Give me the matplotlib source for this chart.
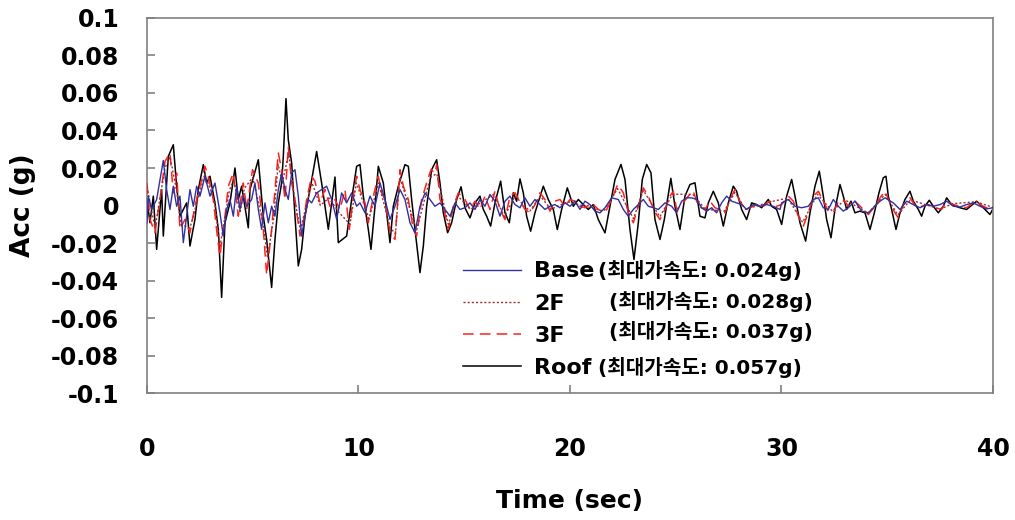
import matplotlib
matplotlib.use("Agg")
import matplotlib.pyplot as plt
import numpy as np
from matplotlib.lines import Line2D

plt.rcParams['font.family'] = ['DejaVu Sans', 'Noto Sans CJK KR']

# Roof (black) - extrema
roof_t = [0.0, 0.142, 0.299, 0.457, 0.693, 0.772, 1.009, 1.245, 1.403, 1.560, 1.875, 2.033,
          2.269, 2.427, 2.663, 2.821, 2.979, 3.215, 3.373, 3.530, 3.688, 3.924, 4.161, 4.318,
          4.476, 4.791, 4.870, 5.264, 5.500, 5.658, 5.894, 6.052, 6.210, 6.367, 6.446, 6.572,
          6.682, 6.840, 6.998, 7.155, 7.313, 7.470, 7.707, 8.022, 8.258, 8.574, 8.889, 9.046,
          9.440, 9.677, 9.913, 10.071, 10.229, 10.465, 10.591, 10.781, 10.938, 11.175, 11.332,
          11.490, 11.647, 11.884, 12.199, 12.357, 12.514, 12.672, 12.908, 13.066, 13.223,
          13.460, 13.696, 13.854, 14.011, 14.216, 14.405, 14.642, 14.85, 15.035, 15.272,
          15.508, 15.745, 15.902, 16.060, 16.249, 16.454, 16.722, 16.927, 17.131, 17.321,
          17.478, 17.636, 17.793, 17.951, 18.140, 18.345, 18.739, 18.975, 19.212, 19.401,
          19.606, 19.874, 20.158, 20.394, 20.631, 20.867, 21.104, 21.340, 21.655, 21.892,
          22.128, 22.412, 22.601, 22.837, 23.026, 23.231, 23.420, 23.625, 23.830, 24.019,
          24.256, 24.461, 24.77, 24.964, 25.201, 25.437, 25.674, 25.910, 26.146, 26.383,
          26.540, 26.777, 27.013, 27.250, 27.486, 27.722, 27.880, 28.116, 28.353, 28.589,
          28.826, 29.062, 29.377, 29.535, 29.771, 30.008, 30.245, 30.481, 30.639, 30.875,
          31.143, 31.348, 31.584, 31.789, 31.978, 32.136, 32.341, 32.530, 32.766, 32.924,
          33.081, 33.286, 33.475, 33.712, 33.948, 34.185, 34.390, 34.610, 34.815, 34.941,
          35.051, 35.209, 35.414, 35.603, 35.839, 36.075, 36.233, 36.469, 36.627, 36.785,
          36.989, 37.179, 37.415, 37.651, 37.809, 38.045, 38.439, 38.755, 39.227, 39.542,
          39.857, 40.0]
roof_a = [0.0032, -0.0092, 0.0050, -0.0234, 0.0085, -0.0163, 0.0262, 0.0324, 0.0103, -0.0057,
          0.0014, -0.0216, -0.0074, 0.0085, 0.0218, 0.0120, 0.0156, 0.0014, -0.0127, -0.0490,
          -0.0092, 0.0014, 0.0200, 0.0032, 0.0103, -0.0119, 0.0085, 0.0244, -0.0057, -0.0181,
          -0.0437, -0.0181, 0.0014, 0.0120, 0.0262, 0.0570, 0.0350, 0.0227, -0.0057, -0.0322,
          -0.0234, -0.0057, 0.0085, 0.0288, 0.0120, -0.0127, 0.0152, -0.0198, -0.0163, 0.0032,
          0.0209, 0.0218, 0.0050, -0.0127, -0.0234, -0.0004, 0.0209, 0.0120, -0.0039, -0.0198,
          -0.0004, 0.0103, 0.0218, 0.0209, 0.0032, -0.0127, -0.0358, -0.0216, -0.0004, 0.0191,
          0.0244, 0.0120, -0.0039, -0.0145, -0.0092, 0.0032, 0.0100, -0.0012, -0.0066, 0.0014,
          0.0050, -0.0021, -0.0057, -0.0110, 0.0014, 0.0130, -0.0039, -0.0092, 0.0068, 0.0023,
          0.0142, 0.0068, -0.0057, -0.0137, -0.0039, 0.0103, 0.0032, -0.0021, -0.0128, -0.0021,
          0.0094, -0.0004, 0.0032, 0.0005, -0.0021, 0.0005, -0.0075, -0.0146, -0.0004, 0.0139,
          0.0219, 0.0139, -0.0128, -0.0288, -0.0092, 0.0139, 0.0219, 0.0174, -0.0075, -0.0181,
          -0.0075, 0.0145, -0.0004, -0.0128, 0.0050, 0.0112, 0.0121, -0.0057, -0.0066, 0.0014,
          0.0076, 0.0014, -0.0110, 0.0014, 0.0103, 0.0076, -0.0021, -0.0075, 0.0014, 0.0005,
          -0.0012, 0.0032, -0.0004, -0.0021, -0.0101, 0.0050, 0.0139, 0.0050, -0.0092, -0.0190,
          -0.0039, 0.0103, 0.0183, 0.0050, -0.0075, -0.0172, -0.0021, 0.0112, 0.0050, -0.0021,
          0.0023, -0.0039, -0.0030, -0.0039, -0.0128, -0.0039, 0.0068, 0.0148, 0.0156, 0.0050,
          -0.0021, -0.0128, -0.0039, 0.0032, 0.0076, 0.0023, -0.0021, -0.0057, -0.0004, 0.0028,
          -0.0004, -0.0039, -0.0004, 0.0041, 0.0005, -0.0012, -0.0021, 0.0023, -0.0012, -0.0048,
          -0.0018]

# 3F (red dashed)
f3_t = [0.0, 0.142, 0.378, 0.615, 0.851, 1.087, 1.245, 1.403, 1.560, 1.797, 2.033, 2.269,
        2.506, 2.742, 2.900, 3.136, 3.325, 3.451, 3.688, 3.846, 4.082, 4.318, 4.555, 4.712,
        4.99, 5.264, 5.500, 5.658, 5.894, 6.052, 6.210, 6.367, 6.525, 6.682, 6.840, 6.998,
        7.234, 7.392, 7.549, 7.786, 7.943, 8.180, 8.416, 8.652, 8.889, 9.125, 9.362, 9.567,
        9.756, 9.913, 10.071, 10.308, 10.465, 10.702, 10.938, 11.096, 11.253, 11.490, 11.726,
        11.963, 12.120, 12.357, 12.593, 12.751, 12.987, 13.223, 13.428, 13.617, 13.696,
        13.854, 14.011, 14.248, 14.484, 14.721, 15.035, 15.272, 15.508, 15.745, 15.981,
        16.217, 16.454, 16.690, 16.927, 17.163, 17.399, 17.636, 17.872, 18.109, 18.345,
        18.581, 18.817, 19.054, 19.290, 19.527, 19.763, 19.999, 20.237, 20.473, 20.710,
        21.025, 21.340, 21.655, 21.970, 22.254, 22.522, 22.758, 22.995, 23.231, 23.467,
        23.704, 23.988, 24.256, 24.492, 24.728, 24.886, 25.043, 25.280, 25.595, 25.831,
        26.068, 26.383, 26.619, 26.856, 27.092, 27.329, 27.565, 27.801, 28.038, 28.274,
        28.510, 28.826, 29.141, 29.456, 29.771, 30.008, 30.323, 30.560, 30.796, 31.033,
        31.269, 31.505, 31.742, 31.978, 32.215, 32.451, 32.687, 32.924, 33.160, 33.475,
        33.791, 34.106, 34.421, 34.658, 34.893, 35.130, 35.366, 35.524, 35.760, 36.075,
        36.390, 36.627, 36.942, 37.257, 37.573, 37.809, 38.124, 38.439, 38.755, 39.149,
        39.542, 39.857, 40.0]
f3_a = [0.0120, -0.0074, -0.0145, 0.0032, 0.0235, 0.0280, 0.0067, 0.0173, -0.0127, -0.0074,
        -0.0145, -0.0004, 0.0103, 0.0209, 0.0156, 0.0032, -0.0163, -0.0269, -0.0057, 0.0103,
        0.0173, -0.0057, 0.0120, -0.0021, 0.0191, 0.0120, -0.0127, -0.0370, -0.0127, 0.0085,
        0.0280, 0.0191, 0.0032, 0.0315, 0.0120, 0.0032, -0.0163, -0.0092, 0.0032, 0.0156,
        0.0129, 0.0014, 0.0085, -0.0004, 0.0032, -0.0021, 0.0085, -0.0127, 0.0050, 0.0156,
        0.0085, 0.0014, -0.0092, 0.0050, 0.0156, 0.0067, 0.0032, -0.0145, -0.0181, 0.0191,
        0.0103, 0.0032, -0.0127, -0.0163, 0.0032, 0.0120, 0.0191, 0.0173, 0.0218, 0.0032,
        -0.0004, -0.0127, -0.0004, 0.0067, 0.0032, -0.0021, 0.0023, -0.0021, 0.0050, -0.0021,
        0.0076, -0.0021, -0.0075, 0.0050, 0.0068, 0.0023, -0.0021, -0.0039, 0.0005, 0.0068,
        0.0032, -0.0030, 0.0023, 0.0032, -0.0004, 0.0032, 0.0023, -0.0004, -0.0012, 0.0014,
        -0.0021, -0.0039, 0.0032, 0.0112, 0.0068, -0.0039, -0.0092, -0.0004, 0.0094, 0.0050,
        -0.0030, -0.0075, -0.0021, 0.0050, 0.0076, -0.0021, 0.0005, 0.0050, 0.0076, -0.0004,
        -0.0021, 0.0023, -0.0012, -0.0021, -0.0039, 0.0032, 0.0085, 0.0023, -0.0021, -0.0012,
        0.0005, -0.0004, 0.0023, -0.0004, 0.0005, 0.0050, 0.0023, -0.0057, -0.0110, -0.0039,
        0.0050, 0.0076, 0.0023, -0.0030, -0.0039, 0.0023, 0.0032, -0.0004, 0.0023, -0.0012,
        -0.0048, -0.0004, 0.0041, 0.0076, 0.0014, -0.0039, -0.0066, 0.0005, 0.0041, -0.0012,
        -0.0004, 0.0005, -0.0012, -0.0021, 0.0023, 0.0005, -0.0004, -0.0012, 0.0023, -0.0004,
        -0.0021, -0.0012]

# 2F (dark red dotted)
f2_t = [0.0, 0.38, 0.85, 1.09, 1.4, 1.6, 2.03, 2.74, 3.2, 3.45, 3.9, 4.1, 4.4, 4.6, 5.0, 5.5,
        5.7, 6.0, 6.2, 6.4, 6.7, 7.0, 7.25, 7.8, 8.2, 8.6, 9.1, 9.6, 9.9, 10.5, 10.95, 11.5,
        11.75, 11.95, 12.75, 13.4, 13.7, 14.25, 14.7, 15.3, 16.4, 16.9, 17.4, 18.1, 18.6,
        19.1, 19.9, 21.6, 22.25, 23.0, 23.47, 24.25, 24.85, 25.8, 26.4, 27.3, 27.8, 28.3,
        29.5, 30.3, 31.0, 31.7, 32.4, 33.0, 34.1, 34.9, 35.5, 36.1, 37.5, 38.1, 39.2, 40.0]
f2_a = [0.010, -0.012, 0.020, 0.026, 0.008, -0.010, -0.012, 0.017, 0.002, -0.022, 0.008,
        0.014, -0.004, 0.009, 0.015, -0.010, -0.028, -0.006, 0.022, 0.012, 0.028, 0.002,
        -0.013, 0.012, 0.000, 0.004, -0.004, -0.010, 0.012, -0.007, 0.012, -0.012, -0.015,
        0.015, -0.013, 0.015, 0.017, -0.010, 0.005, -0.002, 0.006, -0.006, 0.005, -0.003,
        0.005, -0.002, 0.002, -0.003, 0.009, -0.007, 0.008, -0.006, 0.006, 0.006, -0.002,
        -0.003, 0.007, -0.002, 0.002, 0.004, -0.009, 0.006, -0.003, 0.003, -0.004, 0.006,
        -0.005, 0.003, -0.002, 0.001, 0.002, -0.001]

# Base (blue)
base_t = [0.0, 0.063, 0.221, 0.457, 0.772, 0.930, 1.087, 1.245, 1.403, 1.560, 1.718, 1.875,
          2.033, 2.191, 2.348, 2.506, 2.742, 2.979, 3.215, 3.451, 3.609, 3.767, 3.924, 4.082,
          4.239, 4.397, 4.555, 4.712, 4.949, 5.106, 5.264, 5.421, 5.579, 5.737, 5.894, 6.052,
          6.210, 6.367, 6.525, 6.682, 6.840, 6.998, 7.155, 7.313, 7.470, 7.628, 7.786, 8.022,
          8.258, 8.495, 8.731, 8.968, 9.204, 9.440, 9.677, 9.913, 10.071, 10.308, 10.544,
          10.781, 11.017, 11.253, 11.490, 11.726, 11.963, 12.199, 12.436, 12.672, 12.908,
          13.144, 13.381, 13.617, 13.854, 14.090, 14.327, 14.563, 14.799, 15.035, 15.272,
          15.508, 15.745, 15.981, 16.217, 16.454, 16.690, 16.927, 17.163, 17.399, 17.636,
          17.872, 18.109, 18.345, 18.581, 18.817, 19.054, 19.290, 19.527, 19.763, 19.999,
          20.237, 20.473, 20.710, 20.946, 21.182, 21.419, 21.655, 21.970, 22.285, 22.522,
          22.758, 22.995, 23.231, 23.467, 23.704, 23.940, 24.177, 24.492, 24.807, 25.043,
          25.280, 25.516, 25.753, 25.989, 26.225, 26.462, 26.698, 26.934, 27.171, 27.407,
          27.643, 27.880, 28.116, 28.353, 28.668, 28.983, 29.298, 29.614, 29.929, 30.008,
          30.323, 30.639, 30.954, 31.269, 31.505, 31.742, 31.978, 32.215, 32.451, 32.687,
          32.924, 33.160, 33.475, 33.791, 34.106, 34.421, 34.658, 34.894, 35.287, 35.603,
          35.918, 36.233, 36.548, 36.863, 37.179, 37.494, 37.809, 38.124, 38.439, 38.755,
          39.070, 39.385, 39.700, 40.0]
base_a = [-0.0092, 0.0050, -0.0021, 0.0032, 0.0240, 0.0085, -0.0021, 0.0103, -0.0004, 0.0050,
          -0.0198, -0.0057, 0.0085, -0.0004, 0.0103, 0.0050, 0.0156, 0.0050, 0.0120, -0.0039,
          -0.0163, -0.0021, 0.0032, -0.0057, 0.0103, -0.0021, 0.0050, -0.0004, 0.0032, 0.0120,
          -0.0021, -0.0127, 0.0014, -0.0092, -0.0004, -0.0057, 0.0085, 0.0173, 0.0085, 0.0032,
          0.0173, 0.0191, 0.0050, -0.0163, -0.0057, 0.0032, 0.0014, 0.0067, 0.0085, 0.0103,
          0.0032, -0.0074, 0.0067, 0.0014, 0.0067, -0.0004, 0.0014, -0.0039, 0.0050, -0.0004,
          0.0120, 0.0032, -0.0074, -0.0004, 0.0085, 0.0032, -0.0092, -0.0145, -0.0004, 0.0067,
          0.0032, -0.0004, 0.0014, -0.0021, -0.0057, 0.0014, -0.0021, -0.0012, 0.0014, -0.0021,
          0.0032, -0.0004, 0.0059, 0.0023, -0.0057, 0.0023, 0.0050, 0.0005, -0.0012, 0.0041,
          -0.0004, 0.0032, 0.0005, -0.0021, -0.0004, 0.0005, -0.0012, 0.0014, -0.0004, 0.0023,
          -0.0021, 0.0023, 0.0005, -0.0030, -0.0039, -0.0012, 0.0041, 0.0032, -0.0021, -0.0057,
          -0.0021, 0.0005, 0.0032, -0.0004, -0.0012, -0.0021, 0.0014, -0.0004, -0.0039, 0.0023,
          0.0041, 0.0041, 0.0032, -0.0012, -0.0030, -0.0012, -0.0039, 0.0014, 0.0050, 0.0023,
          0.0014, 0.0005, -0.0021, 0.0005, -0.0004, 0.0005, -0.0004, -0.0021, 0.0014, 0.0032,
          -0.0004, -0.0012, -0.0004, 0.0032, 0.0041, -0.0012, -0.0021, 0.0032, -0.0004, -0.0030,
          -0.0012, 0.0023, -0.0030, -0.0039, -0.0004, 0.0023, 0.0041, 0.0014, -0.0021, 0.0023,
          0.0005, -0.0012, 0.0005, -0.0004, 0.0005, 0.0023, -0.0004, -0.0008, 0.0005, 0.0014,
          -0.0004, -0.0018, -0.0012]

names = ['Base', '2F', '3F', 'Roof']
peaks = ['0.024g', '0.028g', '0.037g', '0.057g']

fig = plt.figure(figsize=(10.15, 5.2), dpi=100)
ax = fig.add_axes([0.1448, 0.2442, 0.8335, 0.7212])

ax.plot(roof_t, roof_a, color='black', lw=1.1, zorder=2)
ax.plot(f3_t, f3_a, color='#ff2020', lw=1.1, ls=(0, (7, 4)), zorder=3)
ax.plot(f2_t, f2_a, color='#a03030', lw=1.0, ls=(0, (1.5, 1.5)), zorder=4)
ax.plot(base_t, base_a, color='#3030a0', lw=1.0, zorder=5)

ax.set_xlim(0, 40)
ax.set_ylim(-0.1, 0.1)
ax.set_xticks([0, 10, 20, 30, 40])
ax.set_yticks(np.arange(-0.1, 0.1001, 0.02))
ax.set_yticklabels(['-0.1', '-0.08', '-0.06', '-0.04', '-0.02', '0',
                    '0.02', '0.04', '0.06', '0.08', '0.1'])
for s in ax.spines.values():
    s.set_color('#808080')
    s.set_linewidth(1.2)
ax.tick_params(axis='both', direction='in', color='#808080', length=6, width=1.2,
               labelsize=17)
ax.tick_params(axis='y', pad=20)
ax.tick_params(axis='x', pad=32)
for lab in ax.get_xticklabels() + ax.get_yticklabels():
    lab.set_fontweight('bold')

ax.set_xlabel('Time (sec)', fontsize=18, fontweight='bold', labelpad=20)
ax.set_ylabel('Acc (g)', fontsize=19, fontweight='bold', labelpad=11)

# legend
handles = [Line2D([], [], color='#3030a0', lw=1.0),
           Line2D([], [], color='#a03030', lw=1.0, ls=(0, (1.5, 1.5))),
           Line2D([], [], color='#ff2020', lw=1.1, ls=(0, (7, 4))),
           Line2D([], [], color='black', lw=1.1)]
leg = ax.legend(handles, names, loc='upper left', bbox_to_anchor=(0.3735, 0.351),
                frameon=False, prop={'size': 16, 'weight': 'bold'},
                borderpad=0, borderaxespad=0,
                handlelength=2.6, handletextpad=0.6, labelspacing=0.55)
txt_x = [0.533, 0.546, 0.546, 0.533]
txt_y = [0.328, 0.245, 0.163, 0.069]
for x, y, p in zip(txt_x, txt_y, peaks):
    ax.text(x, y, '(최대가속도: ' + p + ')', transform=ax.transAxes, fontsize=14.5,
            fontweight='bold', va='center', ha='left')

fig.savefig('out.png', dpi=100)
